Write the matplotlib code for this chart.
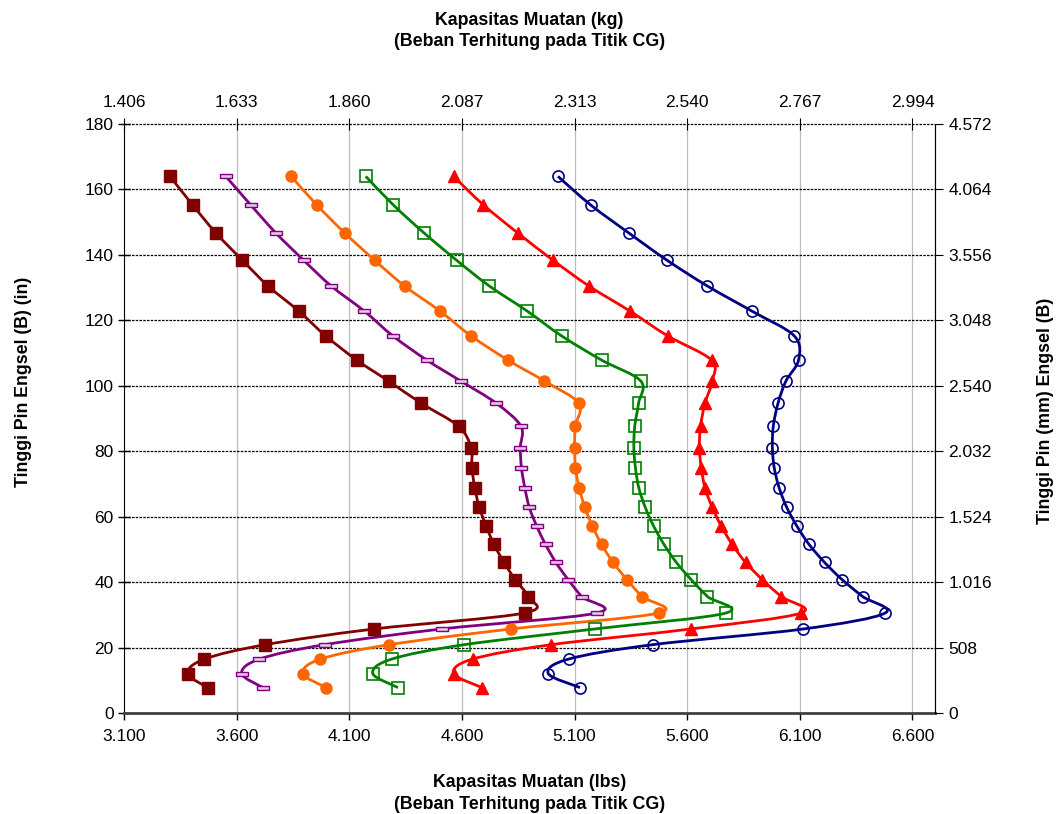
import numpy as np
import matplotlib
matplotlib.use("Agg")
import matplotlib.pyplot as plt
from matplotlib.path import Path
from matplotlib.patches import PathPatch

plt.rcParams['font.family'] = ['Liberation Sans', 'DejaVu Sans']

# %% data (pin height in inches, capacity in lbs)
pin_height = [164.0, 155.3, 146.7, 138.4, 130.5, 122.9, 115.3, 107.9, 101.5, 94.7,
              87.7, 81.2, 75.1, 68.9, 62.9, 57.2, 51.6, 46.1, 40.9, 35.7,
              30.7, 25.8, 21.0, 16.6, 12.2, 7.9]

cap_darkred = [3304, 3404, 3508, 3625, 3740, 3875, 3995, 4133, 4274, 4420,
               4585, 4640, 4644, 4657, 4677, 4708, 4742, 4787, 4836, 4892,
               4879, 4210, 3727, 3457, 3383, 3471]
cap_purple = [3552, 3662, 3774, 3897, 4020, 4166, 4293, 4444, 4595, 4753,
              4862, 4859, 4864, 4879, 4899, 4932, 4971, 5017, 5071, 5131,
              5200, 4510, 3990, 3701, 3622, 3716]
cap_orange = [3842, 3955, 4080, 4212, 4346, 4502, 4640, 4804, 4966, 5119,
              5103, 5100, 5104, 5120, 5146, 5179, 5220, 5271, 5332, 5399,
              5474, 4818, 4277, 3972, 3894, 3997]
cap_green = [4173, 4295, 4432, 4576, 4722, 4889, 5042, 5220, 5394, 5384,
             5367, 5363, 5370, 5385, 5414, 5451, 5497, 5552, 5617, 5690,
             5773, 5189, 4610, 4288, 4204, 4316]
cap_red = [4563, 4695, 4848, 5004, 5164, 5345, 5513, 5708, 5711, 5679,
           5659, 5654, 5662, 5679, 5711, 5751, 5800, 5859, 5933, 6017,
           6106, 5616, 4996, 4647, 4563, 4689]
cap_blue = [5026, 5171, 5341, 5510, 5690, 5886, 6075, 6094, 6038, 6003,
            5982, 5978, 5986, 6008, 6042, 6087, 6141, 6210, 6287, 6379,
            6479, 6116, 5446, 5073, 4983, 5124]

lbs_ticks = [3100, 3600, 4100, 4600, 5100, 5600, 6100, 6600]
in_ticks = [0, 20, 40, 60, 80, 100, 120, 140, 160, 180]

LB2KG = 0.45359237
IN2MM = 25.4


def dotted(v):
    return f"{v:,.0f}".replace(",", ".")


fig = plt.figure(figsize=(10.63, 8.14), dpi=100)
ax = fig.add_axes([0.1167, 0.1235, 0.7629, 0.7242])
ax.set_xlim(3100, 6700)
ax.set_ylim(0, 180)


def smooth_line(ax, xs, ys, color):
    # excel-like smoothed line: cubic bezier through the points,
    # control points computed in screen space
    fig.canvas.draw()
    pts = ax.transData.transform(np.column_stack([xs, ys]))
    n = len(pts)
    verts = [pts[0]]
    codes = [Path.MOVETO]
    for i in range(n - 1):
        p0 = pts[max(i - 1, 0)]
        p1 = pts[i]
        p2 = pts[i + 1]
        p3 = pts[min(i + 2, n - 1)]
        c1 = p1 + (p2 - p0) / 6.0
        c2 = p2 - (p3 - p1) / 6.0
        verts += [c1, c2, p2]
        codes += [Path.CURVE4] * 3
    inv = ax.transData.inverted()
    verts = inv.transform(np.array(verts))
    patch = PathPatch(Path(verts, codes), facecolor='none', edgecolor=color,
                      lw=2.0, zorder=3)
    ax.add_patch(patch)


dash_marker = [(-1, -0.35), (1, -0.35), (1, 0.35), (-1, 0.35), (-1, -0.35)]

series = [
    (cap_darkred, '#800000', dict(marker='s', ms=8.5, mfc='#800000', mec='#800000')),
    (cap_purple, '#800080', dict(marker=dash_marker, ms=8.5, mfc='#e8c8e8', mec='#800080', mew=1)),
    (cap_orange, '#FF6600', dict(marker='o', ms=8, mfc='#FF6600', mec='#FF6600')),
    (cap_green, '#008000', dict(marker='s', ms=8, mfc='none', mec='#008000', mew=1.2)),
    (cap_red, '#FF0000', dict(marker='^', ms=9, mfc='#FF0000', mec='#FF0000')),
    (cap_blue, '#000080', dict(marker='o', ms=8, mfc='none', mec='#000080', mew=1.2)),
]

for xs, col, mk in series:
    smooth_line(ax, xs, pin_height, col)
    ax.plot(xs, pin_height, ls='none', zorder=4, **mk)

# grid
for v in lbs_ticks[1:]:
    ax.axvline(v, color='#bdbdbd', lw=0.9, zorder=1)
for v in in_ticks[1:]:
    ax.axhline(v, color='black', lw=0.9, ls=(0, (2, 1)), zorder=1, clip_on=False)

ax.set_xticks(lbs_ticks)
ax.set_xticklabels([dotted(v) for v in lbs_ticks])
ax.set_yticks(in_ticks)
ax.set_yticklabels([str(v) for v in in_ticks])
ax.tick_params(axis='both', labelsize=12.5)
ax.tick_params(axis='y', direction='inout', length=8, width=1)
ax.tick_params(axis='x', direction='out', length=5, width=1, pad=6)

ax.spines['top'].set_visible(False)
ax.spines['right'].set_visible(False)
ax.spines['bottom'].set_color('#404040')
ax.spines['bottom'].set_linewidth(2)

ax.set_xlabel('Kapasitas Muatan (lbs)\n(Beban Terhitung pada Titik CG)',
              fontsize=12.8, fontweight='bold', labelpad=22, linespacing=1.35)
ax.set_ylabel('Tinggi Pin Engsel (B) (in)', fontsize=12.8, fontweight='bold')
ax.yaxis.set_label_coords(-0.114, 0.562)

# top axis in kg
axt = ax.twiny()
axt.set_xlim(ax.get_xlim())
axt.set_xticks(lbs_ticks)
axt.set_xticklabels([dotted(v * LB2KG) for v in lbs_ticks])
axt.tick_params(axis='x', direction='inout', length=8, labelsize=12.5, pad=6)
axt.set_xlabel('Kapasitas Muatan (kg)\n(Beban Terhitung pada Titik CG)',
               fontsize=12.8, fontweight='bold', labelpad=35, linespacing=1.35)

# right axis in mm
axr = ax.twinx()
axr.set_ylim(ax.get_ylim())
axr.set_yticks(in_ticks)
axr.set_yticklabels([dotted(v * IN2MM) for v in in_ticks])
axr.tick_params(axis='y', direction='out', length=6, labelsize=12.5)
axr.set_ylabel('Tinggi Pin (mm) Engsel (B)', fontsize=12.8, fontweight='bold',
               rotation=90)
axr.yaxis.set_label_coords(1.1256, 0.514)

for a in (axt, axr):
    a.spines['top'].set_visible(False)
    a.spines['bottom'].set_visible(False)
    a.spines['left'].set_visible(False)
axr.spines['right'].set_color('black')

fig.savefig('out.png', dpi=100)
